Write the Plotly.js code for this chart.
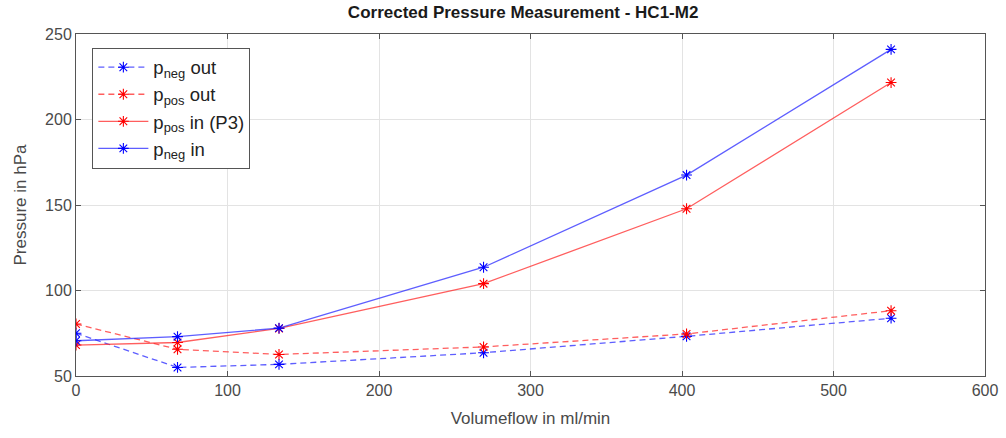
<!DOCTYPE html>
<html>
<head>
<meta charset="utf-8">
<script src="https://cdn.plot.ly/plotly-3.0.1.min.js"></script>
<style>html,body{margin:0;padding:0;background:#fff;}#chart{width:1006px;height:438px;}</style>
</head>
<body>
<div id="chart"></div>
<script>
const flow = [0, 67, 134, 269, 403, 538];
const pNegOut = [75, 55, 56.8, 63.6, 73.2, 83.8];
const pPosOut = [80.4, 65.6, 62.6, 67.0, 74.6, 88.2];
const pPosIn = [68.1, 69.6, 77.8, 104.0, 147.8, 221.6];
const pNegIn = [70.6, 73.0, 78.0, 113.6, 167.5, 241.0];
const names = ['p<sub>neg</sub> out', 'p<sub>pos</sub> out', 'p<sub>pos</sub> in (P3)', 'p<sub>neg</sub> in'];

const BLUE_L = 'rgba(40,40,255,0.75)', RED_L = 'rgba(255,40,40,0.75)';
function tr(y, name, lc, mc, dash) {
  return {x: flow, y: y, name: name, type: 'scatter', mode: 'lines+markers',
    line: {color: lc, width: 1.3, dash: dash},
    marker: {symbol: 'asterisk-open', size: 9, line: {color: mc, width: 1.1}, color: mc}};
}
const data = [
  tr(pNegOut, names[0], BLUE_L, 'blue', '6px,4px'),
  tr(pPosOut, names[1], RED_L, 'red', '6px,4px'),
  tr(pPosIn, names[2], RED_L, 'red', 'solid'),
  tr(pNegIn, names[3], BLUE_L, 'blue', 'solid')
];
const FONT = 'Liberation Sans, Arial, sans-serif';
const axisCommon = {
  showline: true, mirror: 'ticks', linecolor: '#555', linewidth: 1,
  ticks: 'inside', ticklen: 5, tickcolor: '#555',
  showgrid: true, gridcolor: '#e3e3e3', gridwidth: 1, zeroline: false,
  tickfont: {family: FONT, size: 16, color: '#4a4a4a'}
};
const layout = {
  width: 1006, height: 438,
  margin: {l: 76, r: 21, t: 34, b: 62},
  paper_bgcolor: '#fff', plot_bgcolor: '#fff',
  title: {text: '<b>Corrected Pressure Measurement - HC1-M2</b>', x: 0.52, xanchor: 'center', y: 0.985, yanchor: 'top',
    font: {family: FONT, size: 17, color: '#1a1a1a'}},
  xaxis: Object.assign({}, axisCommon, {range: [0, 600], tickvals: [0,100,200,300,400,500,600],
    title: {text: 'Volumeflow in ml/min', standoff: 13, font: {family: FONT, size: 17, color: '#4a4a4a'}}}),
  yaxis: Object.assign({}, axisCommon, {range: [50, 250], tickvals: [50,100,150,200,250],
    title: {text: 'Pressure in hPa', standoff: 14, font: {family: FONT, size: 17, color: '#4a4a4a'}}}),
  showlegend: true,
  legend: {x: 0.018, y: 0.96, xanchor: 'left', yanchor: 'top', bgcolor: '#fff',
    bordercolor: '#555', borderwidth: 1, itemwidth: 50, tracegroupgap: 0,
    font: {family: FONT, size: 18.5, color: '#222'}}
};
Plotly.newPlot('chart', data, layout, {displayModeBar: false, staticPlot: true});
</script>
</body>
</html>
